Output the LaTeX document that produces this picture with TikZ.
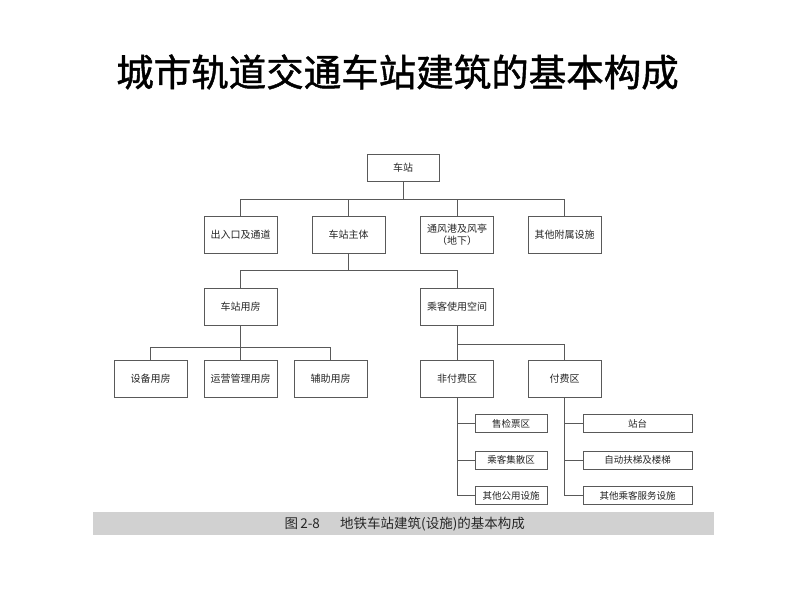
\documentclass[tikz,border=0pt]{standalone}
\usepackage{fontspec}
\newfontfamily\cjk{Noto Sans CJK SC}
\newfontfamily\cjktitle[FakeBold=1.2]{Noto Sans CJK SC}
\begin{document}
\begin{tikzpicture}[x=1pt,y=-1pt,
  boxa/.style={draw=black!65,line width=0.9pt,fill=white,minimum width=73pt,minimum height=37pt,inner sep=1pt,font=\cjk\fontsize{10}{12}\selectfont,text=black!85,align=center},
  leaf/.style={draw=black!65,line width=0.9pt,fill=white,minimum height=18pt,inner sep=1pt,font=\cjk\fontsize{9.5}{11}\selectfont,text=black!85},
  conn/.style={draw=black!65,line width=0.9pt}]
\useasboundingbox (0,0) rectangle (793,595);
% title
\node[font=\cjktitle\fontsize{37.5}{42}\selectfont] (title) at (397.5,72) {城市轨道交通车站建筑的基本构成};
% caption bar
\fill[black!18] (93,512) rectangle (714,535);
\node[font=\cjk\fontsize{13.5}{15}\selectfont,text=black!85,anchor=west] (cap) at (281,524) {图\,2-8\quad\enspace 地铁车站建筑(设施)的基本构成};
% level 1
\node[boxa,minimum height=27pt,minimum width=72pt] (root) at (403,167.5) {车站};
% level 2
\node[boxa] (a1) at (240.5,234.5) {出入口及通道};
\node[boxa] (a2) at (348.5,234.5) {车站主体};
\node[boxa] (a3) at (457,234.5) {通风港及风亭\\（地下）};
\node[boxa] (a4) at (564.5,234.5) {其他附属设施};
% level 3
\node[boxa] (b1) at (240.5,306.5) {车站用房};
\node[boxa] (b2) at (457,306.5) {乘客使用空间};
% level 4
\node[boxa] (c1) at (150.5,378.5) {设备用房};
\node[boxa] (c2) at (240.5,378.5) {运营管理用房};
\node[boxa] (c3) at (330.5,378.5) {辅助用房};
\node[boxa] (c4) at (457,378.5) {非付费区};
\node[boxa] (c5) at (564.5,378.5) {付费区};
% leaves
\node[leaf,minimum width=72pt] (d1) at (511,423.5) {售检票区};
\node[leaf,minimum width=72pt] (d2) at (511,460) {乘客集散区};
\node[leaf,minimum width=72pt] (d3) at (511,495.5) {其他公用设施};
\node[leaf,minimum width=109pt] (e1) at (637.5,423.5) {站台};
\node[leaf,minimum width=109pt] (e2) at (637.5,460) {自动扶梯及楼梯};
\node[leaf,minimum width=109pt] (e3) at (637.5,495.5) {其他乘客服务设施};
% connectors
\draw[conn] (root.south) -- ++(0,18) coordinate (j1);
\draw[conn] (a1.north) |- (j1) -| (a4.north);
\draw[conn] (a2.north) -- (a2.north |- j1);
\draw[conn] (a3.north) -- (a3.north |- j1);
\draw[conn] (a2.south) -- ++(0,16.5) coordinate (j2);
\draw[conn] (b1.north) |- (j2) -| (b2.north);
\draw[conn] (b1.south) -- ++(0,22) coordinate (j3);
\draw[conn] (c1.north) |- (j3) -| (c3.north);
\draw[conn] (c2.north) -- (j3);
\draw[conn] (b2.south) -- ++(0,19) coordinate (j4);
\draw[conn] (c4.north) -- (j4) -| (c5.north);
\draw[conn] (c4.south) |- (d3.west);
\draw[conn] (d1.west) -- (d1.west -| c4.south);
\draw[conn] (d2.west) -- (d2.west -| c4.south);
\draw[conn] (c5.south) |- (e3.west);
\draw[conn] (e1.west) -- (e1.west -| c5.south);
\draw[conn] (e2.west) -- (e2.west -| c5.south);
\end{tikzpicture}
\end{document}
